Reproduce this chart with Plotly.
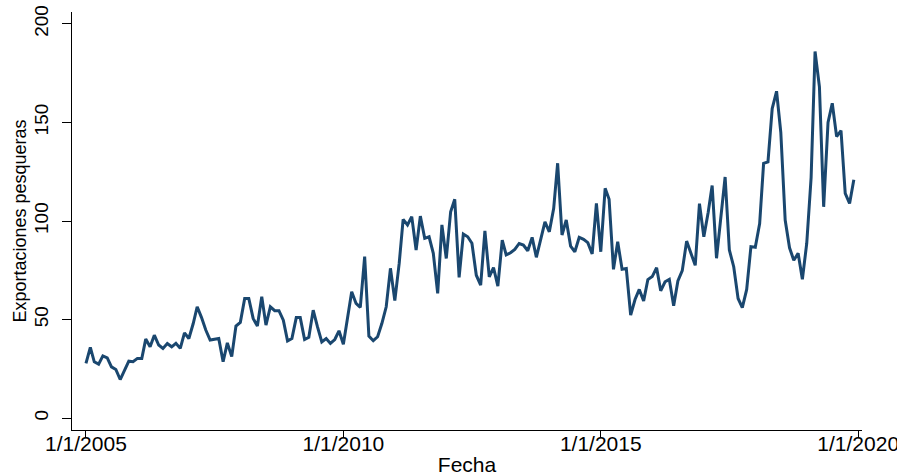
import pandas as pd
import plotly.graph_objects as go

# exportaciones pesqueras mensuales, ene-2005 a dic-2019
exportaciones = [
    27.8, 35.9, 28.6, 27.4, 31.6, 30.6, 26.0, 24.7, 19.6, 24.4, 28.9, 28.6,
    30.3, 30.3, 40.1, 36.2, 42.1, 37.1, 35.4, 37.9, 36.2, 38.0, 35.4, 43.3,
    40.4, 48.0, 56.5, 51.0, 44.7, 39.6, 40.0, 40.4, 28.6, 38.2, 31.2, 46.7,
    48.6, 60.7, 60.7, 50.6, 46.7, 61.6, 47.2, 56.5, 54.5, 54.5, 49.7, 39.2,
    40.4, 51.0, 51.0, 39.9, 41.0, 54.8, 46.4, 38.7, 40.4, 37.9, 39.9, 44.3,
    37.5, 50.6, 64.1, 58.2, 56.2, 81.9, 41.6, 39.3, 41.3, 48.0, 56.5, 76.0,
    59.6, 78.5, 100.8, 98.0, 102.2, 85.3, 102.5, 91.2, 92.0, 83.6, 63.3, 98.0,
    81.0, 104.7, 111.0, 71.4, 93.4, 92.0, 88.7, 72.5, 67.5, 95.0, 71.7, 76.4,
    67.0, 90.3, 82.8, 83.9, 85.6, 88.6, 87.8, 84.9, 91.7, 81.6, 90.3, 99.6,
    94.5, 106.4, 129.3, 92.9, 100.5, 87.3, 84.4, 91.7, 90.7, 89.0, 83.3, 108.9,
    84.4, 116.6, 111.0, 75.5, 89.5, 75.5, 75.9, 52.3, 60.2, 65.3, 59.5, 70.3,
    71.8, 76.3, 64.6, 69.2, 70.4, 57.0, 69.6, 74.8, 89.8, 83.8, 77.5, 108.8,
    92.0, 104.4, 118.0, 81.1, 102.0, 122.3, 85.3, 76.8, 60.7, 56.1, 65.3, 87.0,
    86.7, 98.7, 129.2, 130.0, 157.0, 165.8, 145.0, 100.5, 86.4, 80.1, 83.6, 70.4,
    88.7, 122.0, 186.0, 168.0, 107.2, 150.0, 159.7, 142.8, 145.9, 114.0, 108.9, 120.9,
]
fechas = pd.date_range("2005-01-01", periods=len(exportaciones), freq="MS")

xtick_vals = ["2005-01-01", "2010-01-01", "2015-01-01", "2020-01-01"]
xtick_text = ["1/1/2005", "1/1/2010", "1/1/2015", "1/1/2020"]
ytick_vals = [0, 50, 100, 150, 200]

fig = go.Figure()
fig.add_trace(go.Scatter(x=fechas, y=exportaciones, mode="lines",
                         line=dict(color="#1a476f", width=3), showlegend=False))

fig.update_layout(
    width=897, height=476,
    margin=dict(l=72, r=35, t=12, b=46),
    plot_bgcolor="white", paper_bgcolor="white",
    font=dict(family="Liberation Sans, Arial", size=19, color="black"),
)
fig.update_xaxes(
    range=["2004-09-24", "2020-01-28"],
    tickvals=xtick_vals, ticktext=xtick_text,
    ticks="outside", ticklen=6, tickcolor="black",
    ticklabelstandoff=-11, ticklabeloverflow="allow",
    showline=True, linecolor="black", linewidth=1,
    showgrid=False, zeroline=False,
    tickfont=dict(size=21),
    title=dict(text="Fecha", font=dict(size=21), standoff=7),
    automargin=False,
)
fig.update_yaxes(
    range=[-6, 206],
    tickvals=ytick_vals, tickangle=-90,
    ticks="outside", ticklen=9, tickcolor="black",
    ticklabelstandoff=6,
    showline=True, linecolor="black", linewidth=1,
    showgrid=False, zeroline=False,
    tickfont=dict(size=19),
    title=dict(text="Exportaciones pesqueras", font=dict(size=18), standoff=0),
    automargin=False,
)

# quitar el margen por defecto del body para que el grafico quede en 0,0
fig.write_html("out.html", config={"displayModeBar": False},
               post_script="document.body.style.margin='0';")
